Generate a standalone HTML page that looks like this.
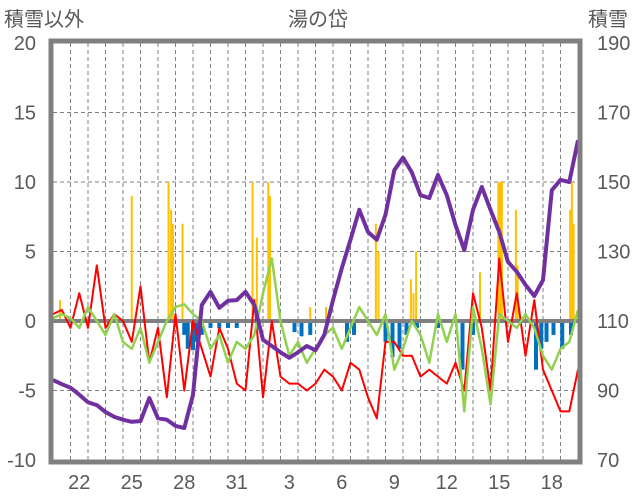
<!DOCTYPE html>
<html><head><meta charset="utf-8">
<style>
html,body{margin:0;padding:0;background:#fff;}
svg{display:block;font-family:"Liberation Sans","Noto Sans CJK JP",sans-serif;}
</style></head>
<body>
<svg id="chart" width="636" height="501" viewBox="0 0 636 501" xmlns="http://www.w3.org/2000/svg">
<text x="4" y="26" font-size="20" fill="#595959">積雪以外</text>
<text x="318" y="26" font-size="20" fill="#595959" text-anchor="middle">湯の岱</text>
<text x="588" y="26" font-size="20" fill="#595959">積雪</text>
<g id="grid"></g><g id="bars"></g><g id="lines"></g><g id="axes"></g>
</svg>
<script>
const leftTicks=[20,15,10,5,0,-5,-10];
const rightTicks=[190,170,150,130,110,90,70];
const dayLabels=["22","25","28","31","3","6","9","12","15","18"];
const redVals=[0.5,0.8,-0.5,2.0,-0.5,4.0,-0.5,0.5,0.0,-1.5,2.5,-3.0,-0.5,-5.5,0.5,-5.0,0.0,-2.0,-4.0,-0.5,-2.0,-4.5,-5.0,1.5,-5.5,0.0,-4.0,-4.5,-4.5,-5.0,-4.5,-3.5,-4.0,-5.0,-3.0,-3.5,-5.5,-7.0,-1.5,-1.5,-2.5,-2.5,-4.0,-3.5,-4.0,-4.5,-3.0,-5.0,2.0,-0.5,-5.0,4.5,-1.5,2.0,-2.5,1.5,-3.5,-5.0,-6.5,-6.5,-3.5];
const greenVals=[0.2,0.5,0.2,-0.5,1.0,0.0,-1.0,0.5,-1.5,-2.0,-0.5,-3.0,-1.5,0.0,1.0,1.2,0.5,0.0,-2.0,-1.0,-3.0,-1.5,-2.0,-1.0,2.0,4.5,0.0,-2.5,-1.5,-3.0,-2.0,-1.0,-0.5,-2.0,-0.5,1.0,0.0,-1.0,0.5,-3.5,-2.0,0.0,-1.0,-3.0,0.5,-1.5,0.5,-6.5,1.0,-2.0,-6.0,0.5,0.0,-0.5,0.5,-0.5,-2.5,-3.5,-2.0,-1.5,0.8];
const purpleVals=[93,91.8,90.8,88.8,86.6,85.8,83.8,82.4,81.6,81,81.2,87.8,82,81.6,79.8,79.2,88.8,114.6,118.4,113.8,115.8,116,118.4,114.6,104.6,102.8,101,99.4,101,102.8,101.6,106,116,125.2,133.4,142,135.6,133.4,140.6,153.4,157,152.8,146.2,145.4,152,146.2,137.6,130.4,142,148.6,142,135.6,127,124.2,120.4,117.2,121.8,147.6,150.6,150,162];
const orangeDays=[0.4,4.5,6.6,6.75,6.85,7.4,11.4,11.65,12.3,12.4,14.7,15.6,18.45,18.6,20.45,20.6,20.75,24.4,25.45,25.55,25.65,26.45,26.55,29.55,29.65,29.75];
const orangeVals=[1.5,9,10,8,7,7,10,6,10,9,1,1,7,5,3,2,5,3.5,10,10,10,8,4,8,10,7];
const blueDays=[7.5,7.7,8.0,8.2,8.5,9.0,9.5,10.0,10.5,13.8,14.2,14.7,16.8,17.2,19.0,19.4,19.8,20.2,20.8,22.0,23.4,24.0,27.6,27.9,28.2,28.6,29.1,29.6];
const blueVals=[-1,-2,-2.1,-1.5,-1,-0.5,-0.5,-0.5,-0.5,-0.8,-1.1,-1,-1.5,-1,-1.5,-2.6,-2,-1,-0.5,-0.5,-3.5,-1,-3.5,-2,-1.5,-1,-2,-1];

const NS="http://www.w3.org/2000/svg";
const X0=53,X1=578,Y0=43,Y1=460,DAYW=17.5;
function xDay(d){return X0+d*DAYW;}
function yL(v){return 321-v*13.9;}
function yR(v){return 321-(v-110)/4*13.9;}
function mk(tag,attrs,parent){const e=document.createElementNS(NS,tag);for(const k in attrs)e.setAttribute(k,attrs[k]);document.getElementById(parent).appendChild(e);return e;}

for(let i=1;i<30;i++){
  const l=mk('line',{x1:xDay(i),x2:xDay(i),y1:Y0,y2:Y1,stroke:'#808080','stroke-width':1,'stroke-dasharray':'4,3'},'grid');
  
  
}
leftTicks.forEach(v=>{
  if(v!==20&&v!==-10&&v!==0){
    const l=mk('line',{x1:X0,x2:X1,y1:yL(v),y2:yL(v),stroke:'#808080','stroke-width':1,'stroke-dasharray':'4,3'},'grid');
    
    
  }
  const t=mk('text',{x:36,y:yL(v)+7,'font-size':20,fill:'#595959','text-anchor':'end'},'axes');
  t.textContent=v;
  
  
});
rightTicks.forEach(v=>{
  const t=mk('text',{x:597,y:yR(v)+7,'font-size':20,fill:'#595959'},'axes');
  t.textContent=v;
  
  
});
dayLabels.forEach((s,i)=>{
  const t=mk('text',{x:xDay(1.5+3*i),y:489,'font-size':20,fill:'#595959','text-anchor':'middle'},'axes');
  t.textContent=s;
  
  
});
orangeDays.forEach((d,i)=>{
  const v=orangeVals[i];
  const r=mk('rect',{x:xDay(d)-1,y:yL(v),width:2,height:yL(0)-yL(v),fill:'#FFC000'},'bars');
  
  
});
blueDays.forEach((d,i)=>{
  const v=blueVals[i];
  const r=mk('rect',{x:xDay(d)-2,y:yL(0),width:4,height:yL(v)-yL(0),fill:'#0070C0'},'bars');
  
  
});
const z=mk('line',{x1:X0,x2:X1,y1:yL(0),y2:yL(0),stroke:'#808080','stroke-width':4},'bars');


function series(vals,yf,color,w,name){
  const pts=vals.map((v,i)=>xDay(i*0.5).toFixed(1)+','+yf(v).toFixed(1)).join(' ');
  const p=mk('polyline',{points:pts,fill:'none',stroke:color,'stroke-width':w,'stroke-linejoin':'round'},'lines');
  
  
}
series(redVals,yL,'#FF0000',2,'temperature-line');
series(greenVals,yL,'#92D050',2.5,'green-series-line');
series(purpleVals,yR,'#7030A0',4,'snow-depth-line');
const f=mk('rect',{x:X0-2,y:Y0-2,width:X1-X0+4,height:Y1-Y0+4,fill:'none',stroke:'#808080','stroke-width':5},'axes');


</script>
</body></html>
